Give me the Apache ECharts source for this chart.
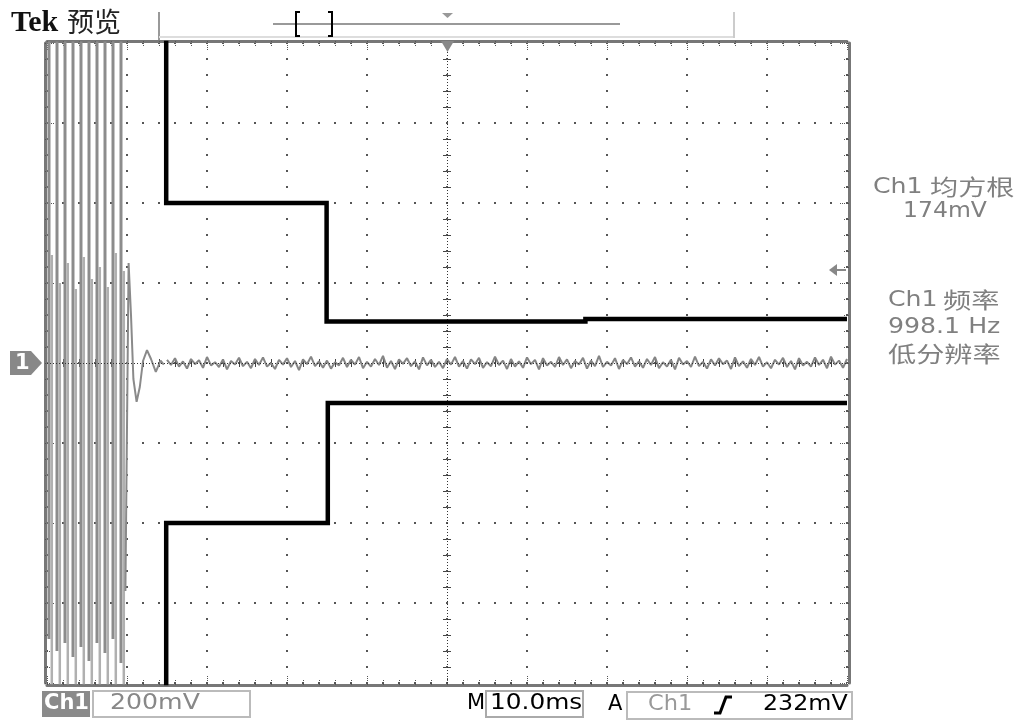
<!DOCTYPE html>
<html>
<head>
<meta charset="utf-8">
<title>Tek 预览</title>
<script src="https://cdn.jsdelivr.net/npm/echarts@6/dist/echarts.min.js"></script>
<style>
  html, body { margin: 0; padding: 0; background: #fff; }
  #scope { width: 1019px; height: 722px; }
</style>
</head>
<body>
<div id="scope"></div>
<script>
// 示波器设置：10.0ms/格，200mV/格
const timeMin = 0
const timeMax = 100
const timeStep = 10
const voltMin = -800
const voltMax = 800
const voltStep = 200
const offscreen = 1000

// 触发前的 1kHz 突发信号（峰值检测后的条纹）
const burstDarkTimes = [0.25, 1.25, 2.25, 3.25, 4.25, 5.25, 6.25, 7.25, 8.25, 9.25]
const burstDarkEnds = [-690, -720, -700, -735, -710, -745, -700, -725, -690, -750]
const burstLightTimes = [0.6, 1.6, 2.6, 3.6, 4.6, 5.6, 6.6, 7.6, 8.6, 9.6]
const burstLightEnds = [270, 200, 250, 185, 265, 210, 240, 190, 275, 230]

// 突发结束后的衰减振荡
const decayTimes = [9.8, 10.2, 10.5, 10.8, 11.2, 11.6, 12.0, 12.5, 13.0, 13.6, 14.2, 14.6]
const decayVolts = [-570, 250, 120, -40, -97, -60, 5, 32, 10, -22, 6, -4]

// 中心线附近的噪声，从 15ms 起每 0.5ms 一个点
const noiseStart = 15
const noiseStep = 0.5
const noiseVolts = [
  8, -5, 12, -9, 4, -14, 10, -3, 7, -12, 15, -6, 2, -10, 9, -16, 5, -4, 13, -8,
  3, -13, 10, -5, 14, -9, 0, -15, 8, -4, 12, -10, 5, -18, 9, -3, 16, -8, 4, -12,
  6, -14, 2, -6, 13, -10, 8, -4, 15, -13, 3, -9, 10, -5, 18, -12, 5, -15, 9, -2,
  12, -8, 4, -16, 14, -6, 8, -10, 3, -13, 10, -4, 15, -9, 5, -14, 9, -3, 13, -12,
  2, -8, 16, -5, 6, -15, 10, -9, 4, -12, 14, -3, 8, -16, 12, -6, 3, -10, 15, -5,
  9, -13, 5, -4, 13, -14, 6, -8, 18, -10, 3, -6, 12, -15, 8, -3, 14, -9, 4, -12,
  10, -5, 15, -13, 2, -9, 8, -16, 13, -4, 5, -10, 16, -8, 3, -14, 9, -6, 12, -3,
  6, -15, 14, -8, 4, -12, 10, -5, 15, -9, 2, -13, 8, -4, 13, -10, 5, -16, 12, -6,
  3, -9, 14, -5, 8, -13, 16, -4, 6, -12, 10
]

// 黑色包络（参考波形）
const upperEnvTimes = [14.9, 14.9, 34.95, 34.95, 67.3, 67.3, 100]
const upperEnvVolts = [offscreen, 400, 400, 104, 104, 110, 110]
const lowerEnvTimes = [14.9, 14.9, 35.1, 35.1, 100]
const lowerEnvVolts = [-offscreen, -400, -400, -100, -100]

const gridBox = { left: 47, top: 43, width: 800, height: 640 }

function strokes(times, ends, rail) {
  const out = []
  times.forEach((t, i) => {
    out.push([t, rail], [t, ends[i]], [t, rail])
  })
  return out
}

function pairs(times, volts) {
  return times.map((t, i) => [t, volts[i]])
}

const noiseData = noiseVolts.map((v, i) => [noiseStart + i * noiseStep, v])

function frameAxis(position, min, max, interval) {
  return {
    type: 'value',
    position: position,
    min: min,
    max: max,
    interval: interval,
    offset: 2,
    axisLine: { show: true, onZero: false, lineStyle: { color: '#777', width: 3 } },
    axisTick: { show: true, inside: true, length: 10, lineStyle: { color: '#555', width: 1, type: [1, 1] } },
    minorTick: { show: true, splitNumber: 5, length: 6, lineStyle: { color: '#555', width: 1, type: [1, 1] } },
    axisLabel: { show: false },
    splitLine: { show: false }
  }
}

const xBottom = frameAxis('bottom', timeMin, timeMax, timeStep)
xBottom.splitLine = { show: true, lineStyle: { color: '#555', width: 2, type: [2, 14], dashOffset: 1 } }
xBottom.minorSplitLine = { show: true, lineStyle: { color: '#444', width: 1, type: [0.01, 316, 8, 2000] } }
const yLeft = frameAxis('left', voltMin, voltMax, voltStep)
yLeft.splitLine = { show: true, lineStyle: { color: '#555', width: 2, type: [2, 14], dashOffset: 1 } }
yLeft.minorSplitLine = { show: true, lineStyle: { color: '#444', width: 1, type: [0.01, 396, 8, 2000] } }

function label(x, y, text, font, fill, scaleX, align) {
  return {
    type: 'text', x: x, y: y, scaleX: scaleX || 1, z: 10,
    style: { text: text, font: font, fill: fill, textAlign: align || 'left', textVerticalAlign: 'middle' }
  }
}

const latin = '21px "DejaVu Sans"'
const cjk = '22px "Noto Sans CJK SC"'
const grey = '#808080'

const chart = echarts.init(document.getElementById('scope'), null, { renderer: 'canvas' })
chart.setOption({
  animation: false,
  backgroundColor: '#fff',
  grid: gridBox,
  xAxis: [xBottom, frameAxis('top', timeMin, timeMax, timeStep)],
  yAxis: [yLeft, frameAxis('right', voltMin, voltMax, voltStep)],
  series: [
    {
      name: 'burstDark', type: 'line', symbol: 'none', z: 3,
      lineStyle: { color: '#8c8c8c', width: 3 },
      data: strokes(burstDarkTimes, burstDarkEnds, offscreen)
    },
    {
      name: 'burstLight', type: 'line', symbol: 'none', z: 3,
      lineStyle: { color: '#b0b0b0', width: 2.5 },
      data: strokes(burstLightTimes, burstLightEnds, -offscreen)
    },
    {
      name: 'decay', type: 'line', symbol: 'none', z: 3,
      lineStyle: { color: '#8a8a8a', width: 2 },
      data: pairs(decayTimes, decayVolts)
    },
    {
      name: 'noise', type: 'line', symbol: 'none', z: 3,
      lineStyle: { color: '#858585', width: 2 },
      data: noiseData
    },
    {
      name: 'upper', type: 'line', symbol: 'none', z: 5,
      lineStyle: { color: '#000', width: 4.5, join: 'miter' },
      data: pairs(upperEnvTimes, upperEnvVolts),
      markLine: {
        silent: true, symbol: 'none', label: { show: false },
        lineStyle: { color: '#333', width: 1, type: [1, 2] },
        data: [{ xAxis: (timeMin + timeMax) / 2 }, { yAxis: 0 }]
      }
    },
    {
      name: 'lower', type: 'line', symbol: 'none', z: 5,
      lineStyle: { color: '#000', width: 4.5, join: 'miter' },
      data: pairs(lowerEnvTimes, lowerEnvVolts)
    }
  ],
  graphic: [
    // 顶部状态栏
    label(11, 23, 'Tek', 'bold 30px "Liberation Serif"', '#111'),
    label(67, 22, '预览', '27px "Noto Sans CJK SC"', '#222'),
    { type: 'line', shape: { x1: 159, y1: 12, x2: 159, y2: 40 }, style: { stroke: '#999', lineWidth: 2 } },
    { type: 'line', shape: { x1: 159, y1: 37, x2: 734, y2: 37 }, style: { stroke: '#ddd', lineWidth: 2 } },
    { type: 'line', shape: { x1: 734, y1: 12, x2: 734, y2: 38 }, style: { stroke: '#ccc', lineWidth: 2 } },
    { type: 'line', shape: { x1: 273, y1: 24, x2: 620, y2: 24 }, style: { stroke: '#999', lineWidth: 2 } },
    { type: 'polyline', shape: { points: [[300, 12], [296, 12], [296, 36], [300, 36]] }, style: { stroke: '#000', lineWidth: 2, fill: null } },
    { type: 'polyline', shape: { points: [[328, 12], [332, 12], [332, 36], [328, 36]] }, style: { stroke: '#000', lineWidth: 2, fill: null } },
    { type: 'polygon', shape: { points: [[442, 13], [453, 13], [447.5, 18]] }, style: { fill: '#999' } },
    // 触发位置与电平标记
    { type: 'polygon', z: 10, shape: { points: [[441, 41], [454, 41], [447.5, 52]] }, style: { fill: '#888' } },
    { type: 'polygon', z: 10, shape: { points: [[829, 270], [837, 264], [837, 276]] }, style: { fill: '#888' } },
    { type: 'line', z: 10, shape: { x1: 836, y1: 270, x2: 846, y2: 270 }, style: { stroke: '#888', lineWidth: 2 } },
    // 通道 1 标记
    { type: 'polygon', z: 10, shape: { points: [[10, 351], [31, 351], [42, 363], [31, 375], [10, 375]] }, style: { fill: '#888' } },
    label(15, 364, '1', 'bold 21px "DejaVu Sans"', '#fff'),
    // 右侧测量读数
    label(873, 188, 'Ch1', latin, grey, 1.2),
    label(930, 187, '均方根', cjk, grey, 1.28),
    label(903, 212, '174mV', latin, grey, 1.12),
    label(888, 301, 'Ch1', latin, grey, 1.2),
    label(943, 300, '频率', cjk, grey, 1.28),
    label(888, 328, '998.1 Hz', latin, grey, 1.2),
    label(888, 354, '低分辨率', cjk, grey, 1.28),
    // 底部状态栏
    { type: 'rect', shape: { x: 42, y: 691, width: 48, height: 26 }, style: { fill: '#8a8a8a' } },
    label(44, 704, 'Ch1', 'bold 21px "DejaVu Sans"', '#fff'),
    { type: 'rect', shape: { x: 93, y: 691, width: 157, height: 26 }, style: { fill: null, stroke: '#bbb', lineWidth: 2 } },
    label(110, 704, '200mV', latin, '#888', 1.2),
    label(467, 704, 'M', latin, '#000'),
    { type: 'rect', shape: { x: 486, y: 691, width: 97, height: 26 }, style: { fill: null, stroke: '#aaa', lineWidth: 2 } },
    label(490, 704, '10.0ms', latin, '#000', 1.18),
    label(608, 705, 'A', latin, '#000'),
    { type: 'rect', shape: { x: 627, y: 692, width: 225, height: 27 }, style: { fill: null, stroke: '#bbb', lineWidth: 2 } },
    label(648, 705, 'Ch1', latin, '#999', 1.07),
    { type: 'polyline', shape: { points: [[714, 713], [720, 713], [726, 697], [732, 697]] }, style: { stroke: '#000', lineWidth: 3, fill: null } },
    label(763, 705, '232mV', latin, '#000', 1.13)
  ]
})
</script>
</body>
</html>
